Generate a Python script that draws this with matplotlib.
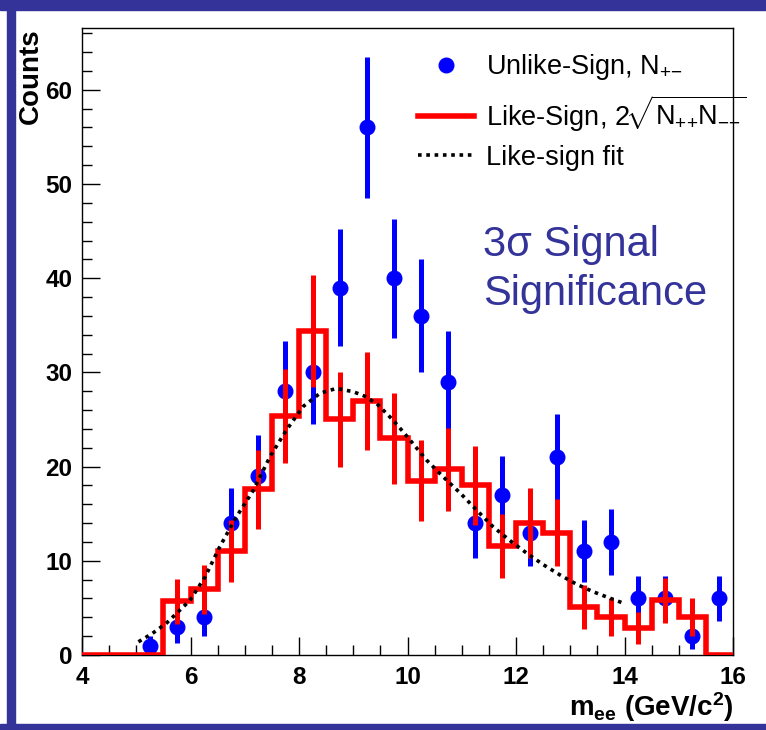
import numpy as np
import matplotlib
matplotlib.use("Agg")
import matplotlib.pyplot as plt
from matplotlib.lines import Line2D
from matplotlib.patches import Rectangle

plt.rcParams['font.family'] = ['Liberation Sans', 'DejaVu Sans']
plt.rcParams['mathtext.fontset'] = 'custom'
plt.rcParams['mathtext.rm'] = 'Liberation Sans'
plt.rcParams['mathtext.it'] = 'Liberation Sans:italic'
plt.rcParams['mathtext.bf'] = 'Liberation Sans:bold'

# ---- data ----
bin_edges = [4.0, 4.5, 5.0, 5.5, 6.0, 6.5, 7.0, 7.5, 8.0, 8.5, 9.0, 9.5, 10.0,
             10.5, 11.0, 11.5, 12.0, 12.5, 13.0, 13.5, 14.0, 14.5, 15.0, 15.5, 16.0]

unlike_x = [5.25, 5.75, 6.25, 6.75, 7.25, 7.75, 8.25, 8.75, 9.25, 9.75, 10.25,
            10.75, 11.25, 11.75, 12.25, 12.75, 13.25, 13.75, 14.25, 14.75, 15.25, 15.75]
unlike_counts = [1, 3, 4, 14, 19, 28, 30, 39, 56, 40, 36,
                 29, 14, 17, 13, 21, 11, 12, 6, 6, 2, 6]
unlike_err = [1.0, 1.7, 2.0, 3.7, 4.4, 5.3, 5.5, 6.2, 7.5, 6.3, 6.0,
              5.4, 3.7, 4.1, 3.6, 4.6, 3.3, 3.5, 2.4, 2.4, 1.4, 2.4]

like_counts = [0, 0, 0, 5.7, 7.0, 11.0, 17.6, 25.4, 34.4, 25.0, 27.0, 23.0,
               18.5, 19.7, 18.0, 11.6, 14.0, 13.0, 5.1, 4.0, 2.9, 5.8, 4.0, 0]
like_err = [0, 0, 0, 2.4, 2.6, 3.3, 4.2, 5.0, 5.9, 5.0, 5.2, 4.8,
            4.3, 4.4, 4.2, 3.4, 3.7, 3.6, 2.3, 2.0, 1.7, 2.4, 2.0, 0]

fit_x = [5.04, 5.3, 5.56, 5.99, 6.27, 6.54, 6.85, 7.16, 7.47, 7.77, 8.08, 8.39,
         8.69, 9.0, 9.2, 9.43, 9.74, 10.05, 10.35, 10.66, 10.97, 11.27, 11.58,
         11.9, 12.2, 12.5, 12.81, 13.12, 13.43, 13.7, 13.98]
fit_y = [1.4, 2.3, 3.4, 5.8, 8.3, 11.5, 14.7, 17.5, 21.1, 23.9, 26.4, 27.8,
         28.3, 27.95, 27.5, 26.7, 24.9, 22.8, 20.7, 18.9, 17.2, 15.4, 13.6,
         12.1, 10.8, 9.6, 8.5, 7.5, 6.7, 6.1, 5.5]

# ---- figure ----
W, H = 766, 730
fig = plt.figure(figsize=(W / 100, H / 100), dpi=100)
border = '#333399'
fig.patches.append(Rectangle((0, 1 - 10 / H), 1, 10 / H, transform=fig.transFigure,
                             color=border, zorder=0))
fig.patches.append(Rectangle((7 / W, 0), 8 / W, 1, transform=fig.transFigure,
                             color=border, zorder=0))
fig.patches.append(Rectangle((0, 0), 1, 6 / H, transform=fig.transFigure,
                             color=border, zorder=0))

ax = fig.add_axes([82 / W, 75 / H, 651 / W, 627 / H])
ax.set_xlim(4, 16)
ax.set_ylim(0, 66.56)

# unlike-sign points
ax.errorbar(unlike_x, unlike_counts, yerr=unlike_err, fmt='o', color='#0000ff',
            ms=10.5, elinewidth=3.6, capsize=0, zorder=2)

# like-sign histogram
ax.stairs(like_counts, bin_edges, baseline=None, color='#ff0000', lw=4, zorder=3)
centers = [(bin_edges[i] + bin_edges[i + 1]) / 2 for i in range(len(like_counts))]
cx = [c for c, v in zip(centers, like_counts) if v > 0]
cy = [v for v in like_counts if v > 0]
ce = [e for e, v in zip(like_err, like_counts) if v > 0]
ax.errorbar(cx, cy, yerr=ce, fmt='none', ecolor='#ff0000', elinewidth=3.6,
            capsize=0, zorder=3)

# fit
ax.plot(fit_x, fit_y, color='black', lw=2.6, ls=(0, (1, 1.3)), zorder=4)

# ticks
ax.set_xticks([4, 6, 8, 10, 12, 14, 16])
ax.set_xticks(np.arange(4, 16.01, 0.5), minor=True)
ax.set_yticks([0, 10, 20, 30, 40, 50, 60])
ax.set_yticks(np.arange(0, 66.5, 2), minor=True)
ax.tick_params(which='both', direction='in', top=False, right=False, width=1)
ax.tick_params(which='major', length=13)
ax.tick_params(which='minor', length=7)
ax.tick_params(axis='x', pad=8, labelsize=17.5)
ax.tick_params(axis='y', pad=7, labelsize=17.5)
for lab in ax.get_xticklabels() + ax.get_yticklabels():
    lab.set_fontweight('bold')
for sp in ax.spines.values():
    sp.set_linewidth(1)

fig.text(31 / W, 1 - 28 / H, 'Counts', rotation=90, ha='center', va='top',
         fontsize=20, fontweight='bold')
fig.text(734 / W, 1 - 716 / H, r'm$_{\mathbf{ee}}$ (GeV/c$^{\mathbf{2}}$)',
         ha='right', va='baseline', fontsize=20, fontweight='bold')

handles = [Line2D([], [], marker='o', color='#0000ff', ls='none', ms=10.5),
           Line2D([], [], color='#ff0000', lw=4),
           Line2D([], [], color='black', lw=2.6, ls=(0, (1, 1.3)))]
labels = [r'Unlike-Sign, N$_{{+}{-}}$',
          r'Like-Sign, 2$\!\sqrt{\mathrm{N}_{{+}{+}}\mathrm{N}_{{-}{-}}}$',
          'Like-sign fit']
ax.legend(handles, labels, loc='upper left',
          bbox_to_anchor=((418 - 82) / 651, (655 - 52) / 627),
          frameon=False, fontsize=19.5, borderpad=0, borderaxespad=0,
          handlelength=2.05, handletextpad=0.45, labelspacing=0.42)

ax.text((483 - 82) / 651, (655 - 256) / 627, '3σ Signal', transform=ax.transAxes,
        fontsize=30, color=border, ha='left', va='baseline')
ax.text((483 - 82) / 651, (655 - 305) / 627, 'Significance', transform=ax.transAxes,
        fontsize=30, color=border, ha='left', va='baseline')

fig.savefig('out.png', dpi=100)
